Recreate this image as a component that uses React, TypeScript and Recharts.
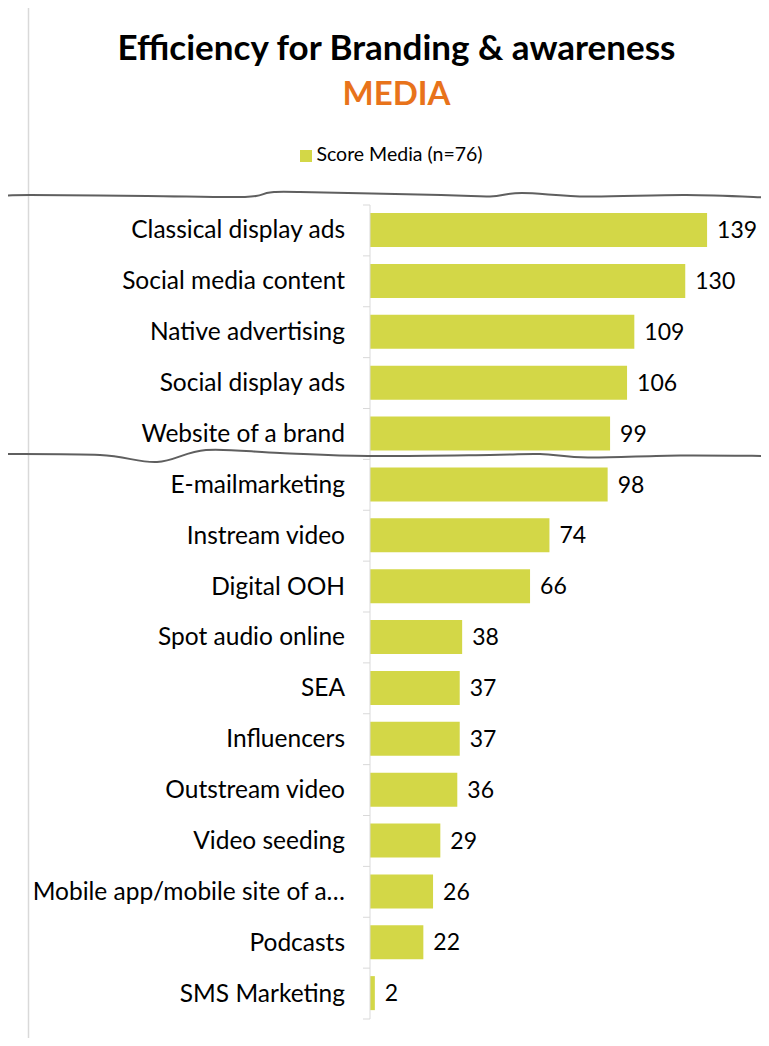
import { Bar, BarChart, LabelList, Legend, XAxis, YAxis } from "recharts";

// categories top to bottom, as in the reference
const categories = [
  "Classical display ads",
  "Social media content",
  "Native advertising",
  "Social display ads",
  "Website of a brand",
  "E-mailmarketing",
  "Instream video",
  "Digital OOH ",
  "Spot audio online",
  "SEA",
  "Influencers",
  "Outstream video",
  "Video seeding",
  "Mobile app/mobile site of a…",
  "Podcasts",
  "SMS Marketing",
];
const scores = [139, 130, 109, 106, 99, 98, 74, 66, 38, 37, 37, 36, 29, 26, 22, 2];
const seriesName = "Score Media (n=76)";
const xDomain = [0, 160];

const data = categories.map((name, i) => ({ name, score: scores[i] }));

const W = 769;
const H = 1046;
const MARGIN = { top: 205, right: 11, bottom: 27, left: 0 };
const AXIS_W = 370;
const BAND = (H - MARGIN.top - MARGIN.bottom) / categories.length;
const BAR_COLOR = "#D3D747";
const FONT = "Lato, 'Open Sans', sans-serif";

// smooth path through points (catmull-rom -> bezier), for the break lines
function wavy(pts: number[][]) {
  let d = `M${pts[0][0]},${pts[0][1]}`;
  for (let i = 0; i < pts.length - 1; i++) {
    const p0 = pts[i - 1] || pts[i];
    const p1 = pts[i];
    const p2 = pts[i + 1];
    const p3 = pts[i + 2] || p2;
    const c1x = p1[0] + (p2[0] - p0[0]) / 6;
    const c1y = p1[1] + (p2[1] - p0[1]) / 6;
    const c2x = p2[0] - (p3[0] - p1[0]) / 6;
    const c2y = p2[1] - (p3[1] - p1[1]) / 6;
    d += ` C${c1x},${c1y} ${c2x},${c2y} ${p2[0]},${p2[1]}`;
  }
  return d;
}

const topBreak = [
  [0, 196], [30, 195], [147, 196], [245, 197], [270, 192.5], [300, 192],
  [441, 195], [490, 196.5], [522, 193], [588, 196.5], [686, 195], [769, 197.5],
];
const midBreak = [
  [0, 454], [100, 455], [157, 462], [206, 450], [280, 453], [368, 456],
  [490, 455], [540, 454], [588, 457.5], [680, 455.5], [769, 456],
];

function CategoryTick(props: any) {
  const { x, y, payload, index } = props;
  const ax = x + 25;
  return (
    <g>
      {index === 0 && (
        <line x1={ax - 7} x2={ax} y1={y - BAND / 2} y2={y - BAND / 2} stroke="#d9d9d9" />
      )}
      <line x1={ax - 7} x2={ax} y1={y + BAND / 2} y2={y + BAND / 2} stroke="#d9d9d9" />
      <text
        x={x}
        y={y}
        dy={8}
        textAnchor="end"
        fontSize={24.5}
        fontFamily={FONT}
        fill="#000"
      >
        {payload.value}
      </text>
    </g>
  );
}

export default function App() {
  return (
    <div style={{ position: "relative", width: W, height: H, margin: -8, background: "#fff", overflow: "hidden" }}>
      <div
        style={{
          position: "absolute",
          left: 28,
          width: 737,
          top: 25,
          textAlign: "center",
          fontFamily: FONT,
          fontWeight: 700,
          fontSize: 35,
          color: "#000",
        }}
      >
        Efficiency for Branding &amp; awareness
      </div>
      <div
        style={{
          position: "absolute",
          left: 28,
          width: 737,
          top: 72,
          textAlign: "center",
          fontFamily: FONT,
          fontWeight: 700,
          fontSize: 33,
          color: "#E8731B",
        }}
      >
        MEDIA
      </div>
      <div style={{ position: "absolute", left: 0, top: 0 }}>
        <BarChart width={W} height={H} data={data} layout="vertical" margin={MARGIN}>
          <XAxis type="number" domain={xDomain} hide />
          <YAxis
            type="category"
            dataKey="name"
            width={AXIS_W}
            interval={0}
            tickLine={false}
            tickSize={0}
            tickMargin={25}
            axisLine={{ stroke: "#d9d9d9" }}
            tick={<CategoryTick />}
          />
          <Legend
            verticalAlign="middle"
            align="center"
            layout="horizontal"
            iconType="square"
            iconSize={12}
            wrapperStyle={{ top: 142, left: 28, width: 737, fontFamily: FONT, fontSize: 19.5 }}
            formatter={(v: string) => <span style={{ color: "#000" }}>{v}</span>}
          />
          <Bar
            dataKey="score"
            name={seriesName}
            fill={BAR_COLOR}
            barSize={34}
            isAnimationActive={false}
          >
            <LabelList
              dataKey="score"
              position="right"
              offset={10}
              fill="#000"
              fontSize={23}
              fontFamily={FONT}
            />
          </Bar>
        </BarChart>
      </div>
      <svg
        width={W}
        height={H}
        style={{ position: "absolute", left: 0, top: 0, pointerEvents: "none" }}
      >
        {/* chart frame */}
        <path d={`M28.5,${H} V3.5 H762.5 V${H}`} fill="none" stroke="#d9d9d9" strokeWidth={1.5} />
        <path d={wavy(topBreak)} fill="none" stroke="#5f5f5f" strokeWidth={2} />
        <path d={wavy(midBreak)} fill="none" stroke="#5f5f5f" strokeWidth={2} />
      </svg>
    </div>
  );
}
